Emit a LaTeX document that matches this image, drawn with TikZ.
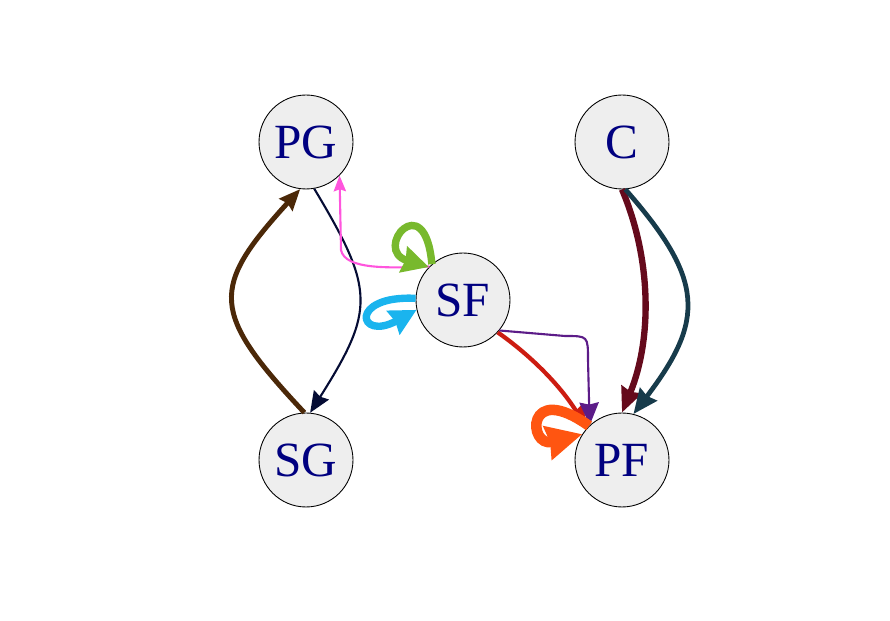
\documentclass[tikz,border=0pt]{standalone}
\usepackage{fontspec}
\setmainfont{Liberation Serif}
\usetikzlibrary{arrows.meta}
\definecolor{txtnavy}{RGB}{0,0,128}
\definecolor{nodefill}{RGB}{238,238,238}
\definecolor{ebrown}{RGB}{75,40,8}
\definecolor{enavy}{RGB}{5,12,52}
\definecolor{epink}{RGB}{255,85,221}
\definecolor{egreen}{RGB}{120,185,45}
\definecolor{ecyan}{RGB}{26,180,238}
\definecolor{ered}{RGB}{204,28,17}
\definecolor{epurple}{RGB}{92,28,136}
\definecolor{eorange}{RGB}{255,85,17}
\definecolor{edarkred}{RGB}{101,10,28}
\definecolor{eteal}{RGB}{23,59,75}
\tikzset{
  gnode/.style={circle, draw=black, line width=0.5pt, fill=nodefill, inner sep=0pt,
    minimum size=1.88cm, text=txtnavy, font=\fontsize{28}{32}\selectfont},
  tip/.style n args={2}{-{Stealth[length=#1pt,width=#2pt,inset=1.2pt]}},
}
\begin{document}
\begin{tikzpicture}[x=0.02cm,y=-0.02cm]
\useasboundingbox (0,0) rectangle (890,621);
\node[gnode] (PG) at (306,142) {PG};
\node[gnode] (C)  at (622,142) {C};
\node[gnode] (SF) at (463,300) {SF};
\node[gnode] (SG) at (306,460) {SG};
\node[gnode] (PF) at (622,460) {PF};
% SG -> PG (brown)
\draw[ebrown, line width=2.8pt, tip={12}{10}] (SG.92) .. controls (210,312) and (210,288) .. (PG.263);
% PG -> SG (navy)
\draw[enavy, line width=1.2pt, tip={12}{10}] (PG.-80) .. controls (375,290) and (375,310) .. (SG.85);
% SF -> PG (pink)
\draw[epink, line width=1.2pt, tip={9}{7}] (SF.135) .. controls (390,268) and (345,270) .. (341,250) -- (PG.-45);
% SF loop (green)
\draw[egreen, line width=4.2pt, tip={15}{15}] (SF.131) .. controls (425,185) and (372,250) .. (SF.136);
% SF loop (cyan)
\draw[ecyan, line width=4.2pt, tip={15}{15}] (SF.178) .. controls (348,295) and (358,342) .. (SF.192);
% SF -> PF (red)
\draw[ered, line width=2.4pt, tip={13}{11}] (SF.-43) .. controls (530,355) and (560,385) .. (PF.138);
% SF -> PF (purple)
\draw[epurple, line width=1.2pt, tip={13}{11}] (SF.-40) -- (565,336) .. controls (588,336) .. (588,360) -- (PF.133);
% PF loop (orange)
\draw[eorange, line width=6pt, tip={20}{19}] (PF.134) .. controls (525,380) and (528,448) .. (PF.147);
% C -> PF (dark red)
\draw[edarkred, line width=3.6pt, tip={14}{12}] (C.-90) .. controls (652,260) and (652,340) .. (PF.90);
% C -> PF (teal)
\draw[eteal, line width=2.7pt, tip={14}{12}] (C.-86) .. controls (705,280) and (705,320) .. (PF.76);
\end{tikzpicture}
\end{document}
